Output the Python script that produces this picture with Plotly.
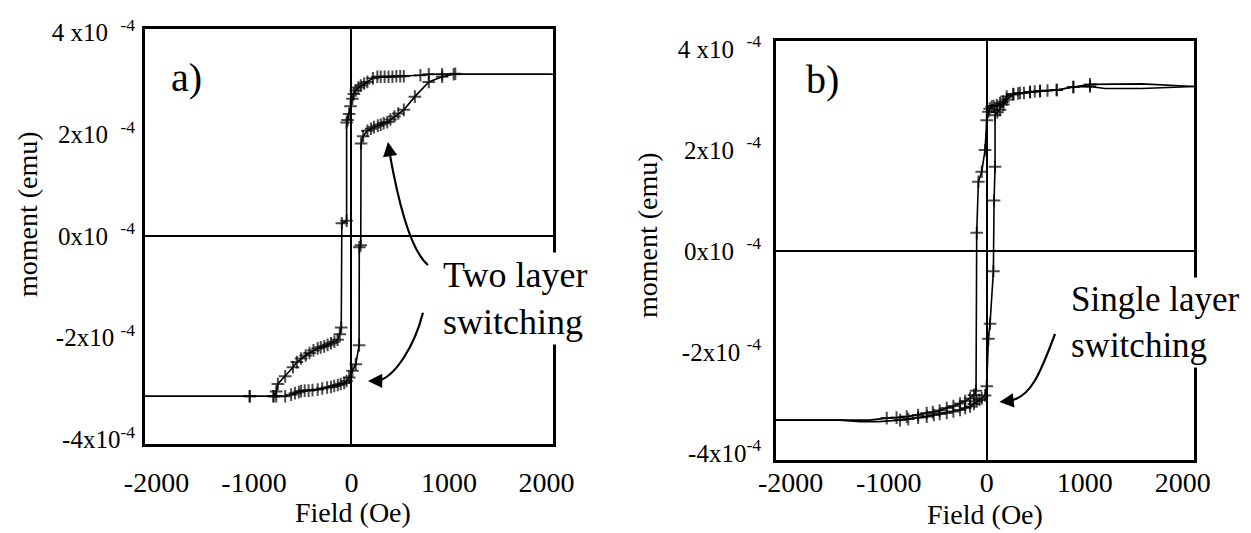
import plotly.graph_objects as go

# ---------------- data (field in Oe, moment in units of 1e-4 emu) ----------------
a_down_H = [2050, 1500, 1065, 930, 793, 707, 537, 500, 460, 420, 380, 340, 300, 265, 220, 163, 130, 95, 70, 44, 25, 10, -10, -24, -40, -50,
            -50, -99, -105, -120, -143, -175, -210, -245, -280, -315, -347, -390, -430, -470, -517, -560, -600, -680, -755, -772, -800,
            -1044, -1500, -2118]
a_down_m = [3.18, 3.18, 3.19, 3.18, 3.18, 3.16, 3.14, 3.14, 3.14, 3.13, 3.13, 3.13, 3.13, 3.13, 3.10, 3.03, 3.00, 2.96, 2.92, 2.86, 2.79, 2.70,
            2.55, 2.40, 2.28, 2.23, 0.30, 0.25, -1.80, -1.93, -2.04, -2.08, -2.11, -2.14, -2.17, -2.19, -2.21, -2.25, -2.30, -2.35, -2.41,
            -2.48, -2.58, -2.76, -2.91, -3.06, -3.15, -3.15, -3.15, -3.15]

a_up_H = [-2118, -1500, -1044, -800, -772, -680, -619, -580, -540, -517, -480, -440, -400, -347, -300, -250, -210, -177, -140, -110, -75,
          -50, -24, 10, 44, 78, 80, 95, 98, 120, 163, 200, 231, 270, 300, 330, 367, 400, 440, 480, 537, 650, 793, 930, 1048, 1500, 2067]
a_up_m = [-3.15, -3.15, -3.15, -3.15, -3.15, -3.15, -3.12, -3.09, -3.07, -3.05, -3.04, -3.04, -3.03, -3.02, -3.00, -2.98, -2.97, -2.95,
          -2.93, -2.91, -2.89, -2.85, -2.78, -2.65, -2.52, -2.15, -0.22, -0.18, 1.82, 1.96, 2.07, 2.11, 2.14, 2.17, 2.19, 2.22, 2.24,
          2.29, 2.35, 2.41, 2.48, 2.74, 3.03, 3.13, 3.18, 3.18, 3.18]

b_down_H = [2115, 1582, 1205, 1054, 884, 714, 620, 544, 490, 442, 380, 320, 272, 204, 170, 136, 102, 70, 51, 30, 17, 0, -17, -51, -85,
            -102, -109, -130, -170, -220, -272, -340, -408, -480, -550, -612, -700, -816, -920, -1020, -1200, -1500, -2150]
b_down_m = [3.26, 3.22, 3.22, 3.26, 3.25, 3.19, 3.18, 3.17, 3.16, 3.15, 3.13, 3.12, 3.11, 3.06, 2.96, 2.93, 2.89, 2.87, 2.86, 2.82, 2.76,
            2.59, 2.00, 1.57, 1.37, 0.36, -2.77, -2.85, -2.92, -2.97, -3.02, -3.07, -3.11, -3.16, -3.19, -3.21, -3.25, -3.28, -3.30,
            -3.31, -3.35, -3.35, -3.35]

b_up_H = [-2150, -1500, -1292, -1100, -884, -800, -700, -612, -540, -480, -408, -340, -272, -220, -170, -130, -102, -75, -51, -17, 0, 17,
          34, 68, 75, 85, 85, 110, 136, 170, 204, 272, 340, 442, 544, 714, 884, 1054, 1582, 2115]
b_up_m = [-3.35, -3.35, -3.38, -3.38, -3.35, -3.33, -3.30, -3.28, -3.25, -3.23, -3.21, -3.18, -3.15, -3.11, -3.08, -3.03, -2.98, -2.95,
          -2.92, -2.86, -2.68, -1.74, -1.44, -0.40, 1.00, 1.67, 2.69, 2.75, 2.80, 2.90, 3.00, 3.10, 3.13, 3.15, 3.17, 3.19, 3.25, 3.30,
          3.31, 3.26]

y_tickvals = [-4, -2, 0, 2, 4]
y_ticktext = ["-4x10<sup>-4</sup>", "-2x10 <sup>-4</sup>", "0x10&nbsp;&nbsp;<sup>-4</sup>",
              "2x10&nbsp;&nbsp;<sup>-4</sup>", "4 x10&nbsp;&nbsp;<sup>-4</sup>"]
x_tickvals = [-2000, -1000, 0, 1000, 2000]
x_ticktext = ["-2000", "-1000", "0", "1000", "2000"]

# annotation arrows (data coords of each panel): Bezier curve points and arrow heads
arrow_a1 = [(785, -0.57), (600, -0.28), (477, 0.71), (395, 1.59)]
head_a1 = (374, 1.85)
arrow_a2 = [(733, -1.51), (651, -2.14), (446, -2.79), (262, -2.85)]
head_a2 = (169, -2.85)
arrow_b = [(697, -1.64), (544, -2.44), (442, -2.93), (218, -2.97)]
head_b = (130, -2.99)

SCALE = 1e-4
FONT = "Liberation Serif, Times New Roman, serif"

# page body has an 8 px margin; figure sized so it ends at the window edges
W, H = 1243, 525
OFF = 8


def px(x):
    return (x - OFF) / W


def py(y):
    return 1 - (y - OFF) / H


fig = go.Figure()


def msize(Hs):
    return [9 if abs(h) < 1100 else 0 for h in Hs]


for Hs, m, xa, ya in [(a_down_H, a_down_m, "x", "y"), (a_up_H, a_up_m, "x", "y"),
                      (b_down_H, b_down_m, "x2", "y2"), (b_up_H, b_up_m, "x2", "y2")]:
    fig.add_trace(go.Scatter(
        x=Hs, y=[v * SCALE for v in m], xaxis=xa, yaxis=ya, mode="lines+markers",
        line=dict(color="black", width=1.6),
        marker=dict(symbol="cross-thin", size=msize(Hs), color="black", line=dict(color="black", width=2)),
        showlegend=False, hoverinfo="skip"))

axis_common = dict(showline=True, linecolor="black", linewidth=3, mirror=True, showgrid=False,
                   zeroline=True, zerolinecolor="black", zerolinewidth=2, ticks="", automargin=False)
xfont = dict(family=FONT, size=28, color="black")
yfont = dict(family=FONT, size=25, color="black")

fig.update_layout(
    width=W, height=H, margin=dict(l=0, r=0, t=0, b=0, pad=0, autoexpand=False),
    paper_bgcolor="white", plot_bgcolor="white",
    xaxis=dict(domain=[px(145), px(553)], range=[-2118, 2067], anchor="y", tickfont=xfont,
               tickvals=x_tickvals, ticktext=x_ticktext, ticklabelstandoff=11, **axis_common),
    yaxis=dict(domain=[py(444), py(28.5)], range=[-4.09 * SCALE, 4.08 * SCALE], anchor="x", tickfont=yfont,
               tickvals=[v * SCALE for v in y_tickvals], ticktext=y_ticktext, ticklabelstandoff=2, **axis_common),
    xaxis2=dict(domain=[px(776), px(1194)], range=[-2150, 2115], anchor="y2", tickfont=xfont,
                tickvals=x_tickvals, ticktext=x_ticktext, ticklabelstandoff=-5, **axis_common),
    yaxis2=dict(domain=[py(460), py(41)], range=[-4.14 * SCALE, 4.16 * SCALE], anchor="x2", tickfont=yfont,
                tickvals=[v * SCALE for v in y_tickvals], ticktext=y_ticktext, ticklabelstandoff=7, **axis_common),
)


def curve_path(pts):
    (x0, y0), (x1, y1), (x2, y2), (x3, y3) = pts
    s = SCALE
    return f"M {x0},{y0*s} C {x1},{y1*s} {x2},{y2*s} {x3},{y3*s}"


for pts, head, xr, yr in [(arrow_a1, head_a1, "x", "y"), (arrow_a2, head_a2, "x", "y"), (arrow_b, head_b, "x2", "y2")]:
    fig.add_shape(type="path", path=curve_path(pts), xref=xr, yref=yr, line=dict(color="black", width=2.2))
    fig.add_annotation(x=head[0], y=head[1] * SCALE, ax=pts[-1][0], ay=pts[-1][1] * SCALE, xref=xr, yref=yr,
                       axref=xr, ayref=yr, text="", showarrow=True, arrowhead=2, arrowsize=1.3, arrowwidth=2.2,
                       arrowcolor="black", standoff=0, startstandoff=0)

fig.add_annotation(x=px(440), y=py(298), xref="paper", yref="paper", xanchor="left", yanchor="middle", align="left",
                   text="Two layer<br>switching", showarrow=False, bgcolor="white",
                   font=dict(family=FONT, size=36, color="black"), borderpad=2)
fig.add_annotation(x=px(1068), y=py(322), xref="paper", yref="paper", xanchor="left", yanchor="middle", align="left",
                   text="Single layer<br>switching", showarrow=False, bgcolor="white",
                   font=dict(family=FONT, size=35, color="black"), borderpad=2)

lab_font = dict(family=FONT, size=40, color="black")
fig.add_annotation(x=px(186), y=py(77), xref="paper", yref="paper", xanchor="center", yanchor="middle",
                   text="a)", showarrow=False, font=lab_font)
fig.add_annotation(x=px(822), y=py(80), xref="paper", yref="paper", xanchor="center", yanchor="middle",
                   text="b)", showarrow=False, font=lab_font)

title_font = dict(family=FONT, size=28, color="black")
for x, y, t, ang in [(353, 512, "Field (Oe)", 0), (985, 514, "Field (Oe)", 0),
                     (27, 214, "moment (emu)", -90), (648, 235, "moment (emu)", -90)]:
    fig.add_annotation(x=px(x), y=py(y), xref="paper", yref="paper", xanchor="center", yanchor="middle",
                       text=t, textangle=ang, showarrow=False, font=title_font)

fig.write_html("out.html")
